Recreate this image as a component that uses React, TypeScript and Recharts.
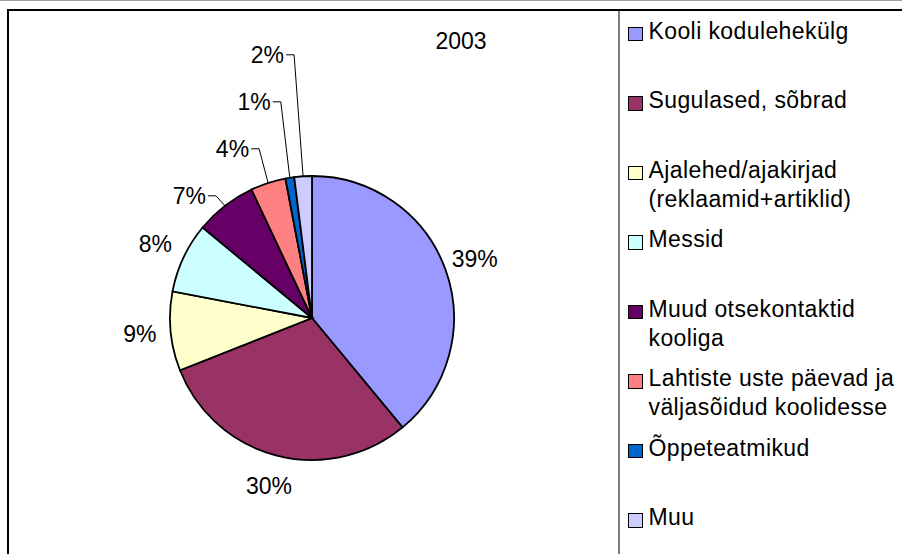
import { PieChart, Pie, Cell, Legend } from 'recharts';

const categories = [
  'Kooli kodulehekülg',
  'Sugulased, sõbrad',
  'Ajalehed/ajakirjad (reklaamid+artiklid)',
  'Messid',
  'Muud otsekontaktid kooliga',
  'Lahtiste uste päevad ja väljasõidud koolidesse',
  'Õppeteatmikud',
  'Muu',
];
const legendLines = [
  ['Kooli kodulehekülg'],
  ['Sugulased, sõbrad'],
  ['Ajalehed/ajakirjad', '(reklaamid+artiklid)'],
  ['Messid'],
  ['Muud otsekontaktid', 'kooliga'],
  ['Lahtiste uste päevad ja', 'väljasõidud koolidesse'],
  ['Õppeteatmikud'],
  ['Muu'],
];
const values = [39, 30, 9, 8, 7, 4, 1, 2];
const colors = ['#9999FF', '#993366', '#FFFFCC', '#CCFFFF', '#660066', '#FF8080', '#0066CC', '#CCCCFF'];
const title = '2003';

const data = categories.map((name, i) => ({ name, value: values[i] }));

const FONT = '"Liberation Sans", Arial, sans-serif';
const RAD = Math.PI / 180;
const total = values.reduce((a, b) => a + b, 0);
const midOf = (i: number) => {
  let s = 0;
  for (let j = 0; j < i; j++) s += values[j];
  return 90 - (360 * (s + values[i] / 2)) / total;
};
// slices this small get stacked labels with leader lines
const firstSmall = values.findIndex((v) => v <= 7);

const renderLabel = (props: any) => {
  const { cx, cy, outerRadius, index, percent } = props;
  const mid = midOf(index);
  const text = `${Math.round(percent * 100)}%`;
  if (index >= firstSmall) {
    const ax = cx + outerRadius * Math.cos(mid * RAD);
    const ay = cy - outerRadius * Math.sin(mid * RAD);
    const baseY = cy - outerRadius * Math.sin(midOf(firstSmall) * RAD) - 10;
    const ly = baseY - 47 * (index - firstSmall);
    const rx = ax - 19;
    return (
      <g key={`l-${index}`}>
        <polyline
          points={`${rx + 2},${ly} ${rx + 10},${ly} ${ax},${ay}`}
          fill="none"
          stroke="#000"
          strokeWidth={1}
        />
        <text x={rx} y={ly} textAnchor="end" dominantBaseline="central" fill="#000" fontSize={23} fontFamily={FONT}>
          {text}
        </text>
      </g>
    );
  }
  const r = outerRadius + 31;
  return (
    <text
      key={`l-${index}`}
      x={cx + r * Math.cos(mid * RAD)}
      y={cy - r * Math.sin(mid * RAD)}
      textAnchor="middle"
      dominantBaseline="central"
      fill="#000"
      fontSize={23}
      fontFamily={FONT}
    >
      {text}
    </text>
  );
};

const renderLegend = () => (
  <div style={{ position: 'relative', width: 282, height: 554, fontFamily: FONT }}>
    {legendLines.map((lines, i) => (
      <div key={i} style={{ position: 'absolute', top: 16.5 + i * 69.5, left: 8, display: 'flex' }}>
        <span
          style={{
            width: 12.5,
            height: 12.5,
            marginTop: 10,
            border: '1.6px solid #000',
            background: colors[i],
            flex: 'none',
          }}
        />
        <div style={{ marginLeft: 6, fontSize: 23, lineHeight: '29px', letterSpacing: 0.4, color: '#000' }}>
          {lines.map((l) => (
            <div key={l} style={{ whiteSpace: 'nowrap' }}>{l}</div>
          ))}
        </div>
      </div>
    ))}
  </div>
);

export default function App() {
  return (
    <div style={{ position: 'absolute', left: 0, top: 0, width: 902, height: 554, background: '#fff', overflow: 'hidden' }}>
      <div style={{ position: 'absolute', left: 0, top: 0, width: 902, height: 1, background: '#a0a0a0' }} />
      <div style={{ position: 'absolute', left: 7, top: 9, width: 895, height: 2, background: '#000' }} />
      <div style={{ position: 'absolute', left: 7, top: 9, width: 2, height: 545, background: '#000' }} />
      <div style={{ position: 'absolute', left: 618, top: 11, width: 1.5, height: 543, background: '#808080' }} />
      <div
        style={{
          position: 'absolute',
          left: 411,
          width: 100,
          top: 27,
          textAlign: 'center',
          fontFamily: FONT,
          fontSize: 23,
          lineHeight: '28px',
        }}
      >
        {title}
      </div>
      <PieChart
        width={902}
        height={554}
        margin={{ top: 0, right: 0, bottom: 0, left: 0 }}
        style={{ position: 'absolute', left: 0, top: 0 }}
      >
        <Pie
          data={data}
          dataKey="value"
          nameKey="name"
          cx={312}
          cy={318}
          outerRadius={142}
          startAngle={90}
          endAngle={-270}
          stroke="#000"
          strokeWidth={1.8}
          label={renderLabel}
          labelLine={false}
          isAnimationActive={false}
        >
          {data.map((d, i) => (
            <Cell key={d.name} fill={colors[i]} />
          ))}
        </Pie>
        <Legend
          layout="vertical"
          align="right"
          verticalAlign="middle"
          content={renderLegend}
          wrapperStyle={{ position: 'absolute', top: 0, left: 620, width: 282, height: 554 }}
        />
      </PieChart>
    </div>
  );
}
